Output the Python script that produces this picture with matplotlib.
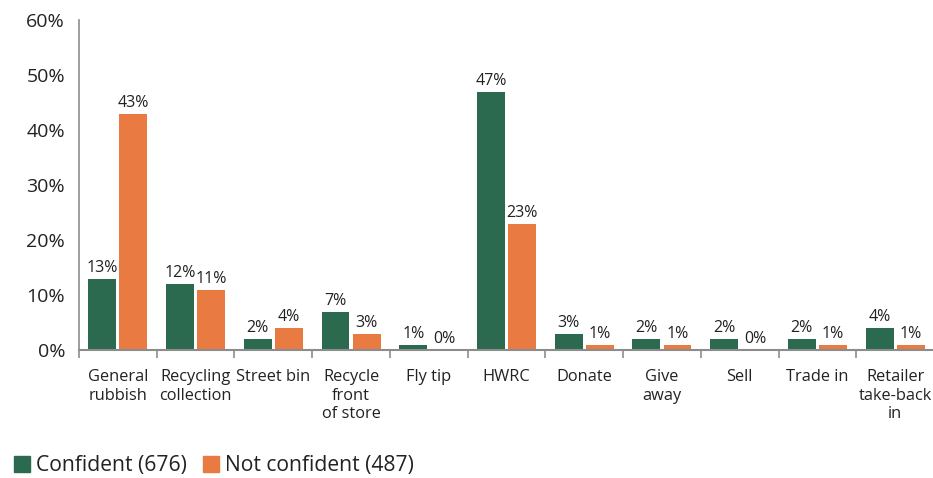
import matplotlib
matplotlib.use("Agg")
import matplotlib.pyplot as plt
import numpy as np
from matplotlib.ticker import FixedLocator, PercentFormatter
from matplotlib.patches import Patch

plt.rcParams['font.family'] = ['Open Sans', 'DejaVu Sans']

categories = ["General\nrubbish", "Recycling\ncollection", "Street bin", "Recycle\nfront\nof store",
              "Fly tip", "HWRC", "Donate", "Give\naway", "Sell", "Trade in", "Retailer\ntake-back\nin"]
confident = [13, 12, 2, 7, 1, 47, 3, 2, 2, 2, 4]
not_confident = [43, 11, 4, 3, 0, 23, 1, 1, 0, 1, 1]
series_names = ["Confident (676)", "Not confident (487)"]
colors = ["#2C6A4F", "#E97A41"]

fig = plt.figure(figsize=(9.33, 4.78), dpi=100)
ax = fig.add_axes([79 / 933, 1 - 350 / 478, 855 / 933, 330 / 478])

x = np.arange(len(categories))
w = 0.36
off = 0.2
b1 = ax.bar(x - off, confident, w, color=colors[0])
b2 = ax.bar(x + off, not_confident, w, color=colors[1])

for bars, vals in ((b1, confident), (b2, not_confident)):
    for r, v in zip(bars, vals):
        ax.text(r.get_x() + r.get_width() / 2, v + 0.5, f"{v}%", ha="center", va="bottom",
                fontsize=11.5, color="#222222")

ax.set_xlim(-0.5, len(categories) - 0.5)
ax.set_ylim(0, 60)
ax.yaxis.set_major_locator(FixedLocator([0, 10, 20, 30, 40, 50, 60]))
ax.yaxis.set_major_formatter(PercentFormatter(decimals=0))
ax.tick_params(axis="y", length=0, pad=10, labelsize=14, labelcolor="#222222")

ax.set_xticks(x)
ax.set_xticklabels(categories, fontsize=11.8, color="#222222", linespacing=1.2)
ax.set_xticks(np.arange(len(categories) + 1) - 0.5, minor=True)
ax.tick_params(axis="x", which="major", length=0, pad=14)
ax.tick_params(axis="x", which="minor", length=6, width=1.2, color="#8c8c8c")

for s in ("top", "right"):
    ax.spines[s].set_visible(False)
ax.spines["left"].set_color("#8c8c8c")
ax.spines["bottom"].set_color("#8c8c8c")
ax.spines["left"].set_linewidth(1.2)
ax.spines["bottom"].set_linewidth(1.5)

handles = [Patch(color=c, label=n) for c, n in zip(colors, series_names)]
fig.legend(handles=handles, loc="center left", bbox_to_anchor=(14 / 933, 1 - 466 / 478), ncol=2,
           frameon=False, borderpad=0, borderaxespad=0,
           fontsize=15.2, handlelength=0.75, handleheight=0.75, handletextpad=0.3, columnspacing=0.75,
           labelcolor="#222222")

fig.savefig("out.png", dpi=100)
